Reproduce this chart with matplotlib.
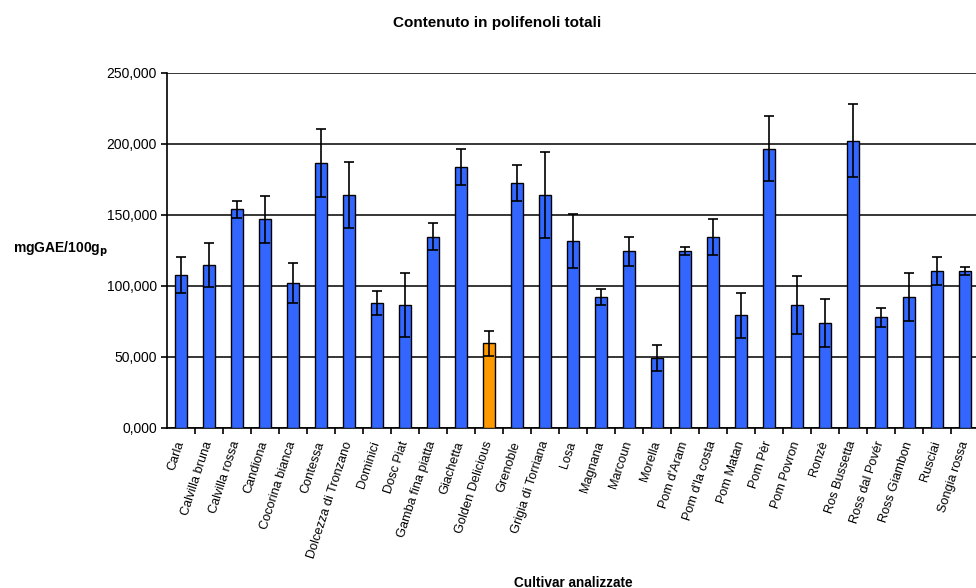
import matplotlib.pyplot as plt
from matplotlib.ticker import FixedLocator, FuncFormatter

plt.rcParams['font.family'] = ['Liberation Sans', 'DejaVu Sans']

cultivars = ["Carla", "Calvilla bruna", "Calvilla rossa", "Candiona", "Cocorina bianca",
             "Contessa", "Dolcezza di Tronzano", "Dominici", "Dosc Piat", "Gamba fina piatta",
             "Giachetta", "Golden Delicious", "Grenoble", "Grigia di Torriana", "Losa",
             "Magnana", "Marcoun", "Morella", "Pom d'Aram", "Pom d'la costa",
             "Pom Matan", "Pom Pèr", "Pom Povron", "Ronzè", "Ros Bussetta",
             "Ross dal Povér", "Ross Giambon", "Rusciai", "Songia rossa"]
polifenoli = [107.4, 114.4, 153.9, 146.9, 101.7, 186.3, 163.8, 87.6, 86.2, 134.4,
              183.5, 59.4, 172.2, 163.8, 131.3, 91.9, 124.3, 49.1, 124.3, 134.2,
              79.2, 196.4, 86.2, 73.5, 202.1, 77.8, 91.9, 110.2, 110.2]
dev_std = [12.7, 15.5, 5.9, 16.5, 14.1, 24.0, 23.0, 8.5, 22.6, 9.6,
           12.7, 9.0, 12.7, 30.5, 19.0, 5.6, 10.1, 8.9, 2.8, 12.7,
           16.0, 23.0, 20.5, 16.9, 25.6, 6.8, 16.9, 9.9, 2.8]
evidenziato = "Golden Delicious"

fig = plt.figure(figsize=(9.76, 5.88), dpi=100)
ax = fig.add_axes([0.1708, 0.2726, 0.832, 0.6038])

x = list(range(len(cultivars)))
colori = ['#FF9900' if c == evidenziato else '#3366FF' for c in cultivars]
ax.bar(x, polifenoli, width=0.44, color=colori, edgecolor='black', linewidth=1.0, zorder=3)
ax.errorbar(x, polifenoli, yerr=dev_std, fmt='none', ecolor='black', elinewidth=1.2,
            capsize=3.5, capthick=1.2, zorder=4)

ax.set_xlim(-0.5, len(cultivars) - 0.5)
ax.set_ylim(0, 250)
ax.yaxis.set_major_locator(FixedLocator([0, 50, 100, 150, 200, 250]))
ax.yaxis.set_major_formatter(FuncFormatter(lambda v, p: f"{v:.3f}".replace('.', ',')))
ax.grid(axis='y', color='black', linewidth=1.1, zorder=0)
ax.set_axisbelow(True)

for s in ['top', 'right']:
    ax.spines[s].set_visible(False)
ax.spines['left'].set_linewidth(1.2)
ax.spines['bottom'].set_linewidth(1.2)

ax.set_xticks(x)
ax.set_xticklabels(cultivars, rotation=72, ha='right', va='center', rotation_mode='anchor',
                   fontsize=9.2)
ax.tick_params(axis='x', which='major', length=0, pad=10)
ax.set_xticks([i + 0.5 for i in x[:-1]], minor=True)
ax.tick_params(axis='x', which='minor', length=4, width=1.2)
ax.tick_params(axis='y', length=4, width=1.2, labelsize=10, pad=3)

fig.text(0.509, 0.961, "Contenuto in polifenoli totali", ha='center', va='center',
         fontsize=11, fontweight='bold')
fig.text(0.013, 0.5765, r"mgGAE/100g$_{\mathbf{p}}$", ha='left', va='center',
         fontsize=10, fontweight='bold')
fig.text(0.587, 0.009, "Cultivar analizzate", ha='center', va='center',
         fontsize=9.8, fontweight='bold')

fig.savefig('out.png', dpi=100)
